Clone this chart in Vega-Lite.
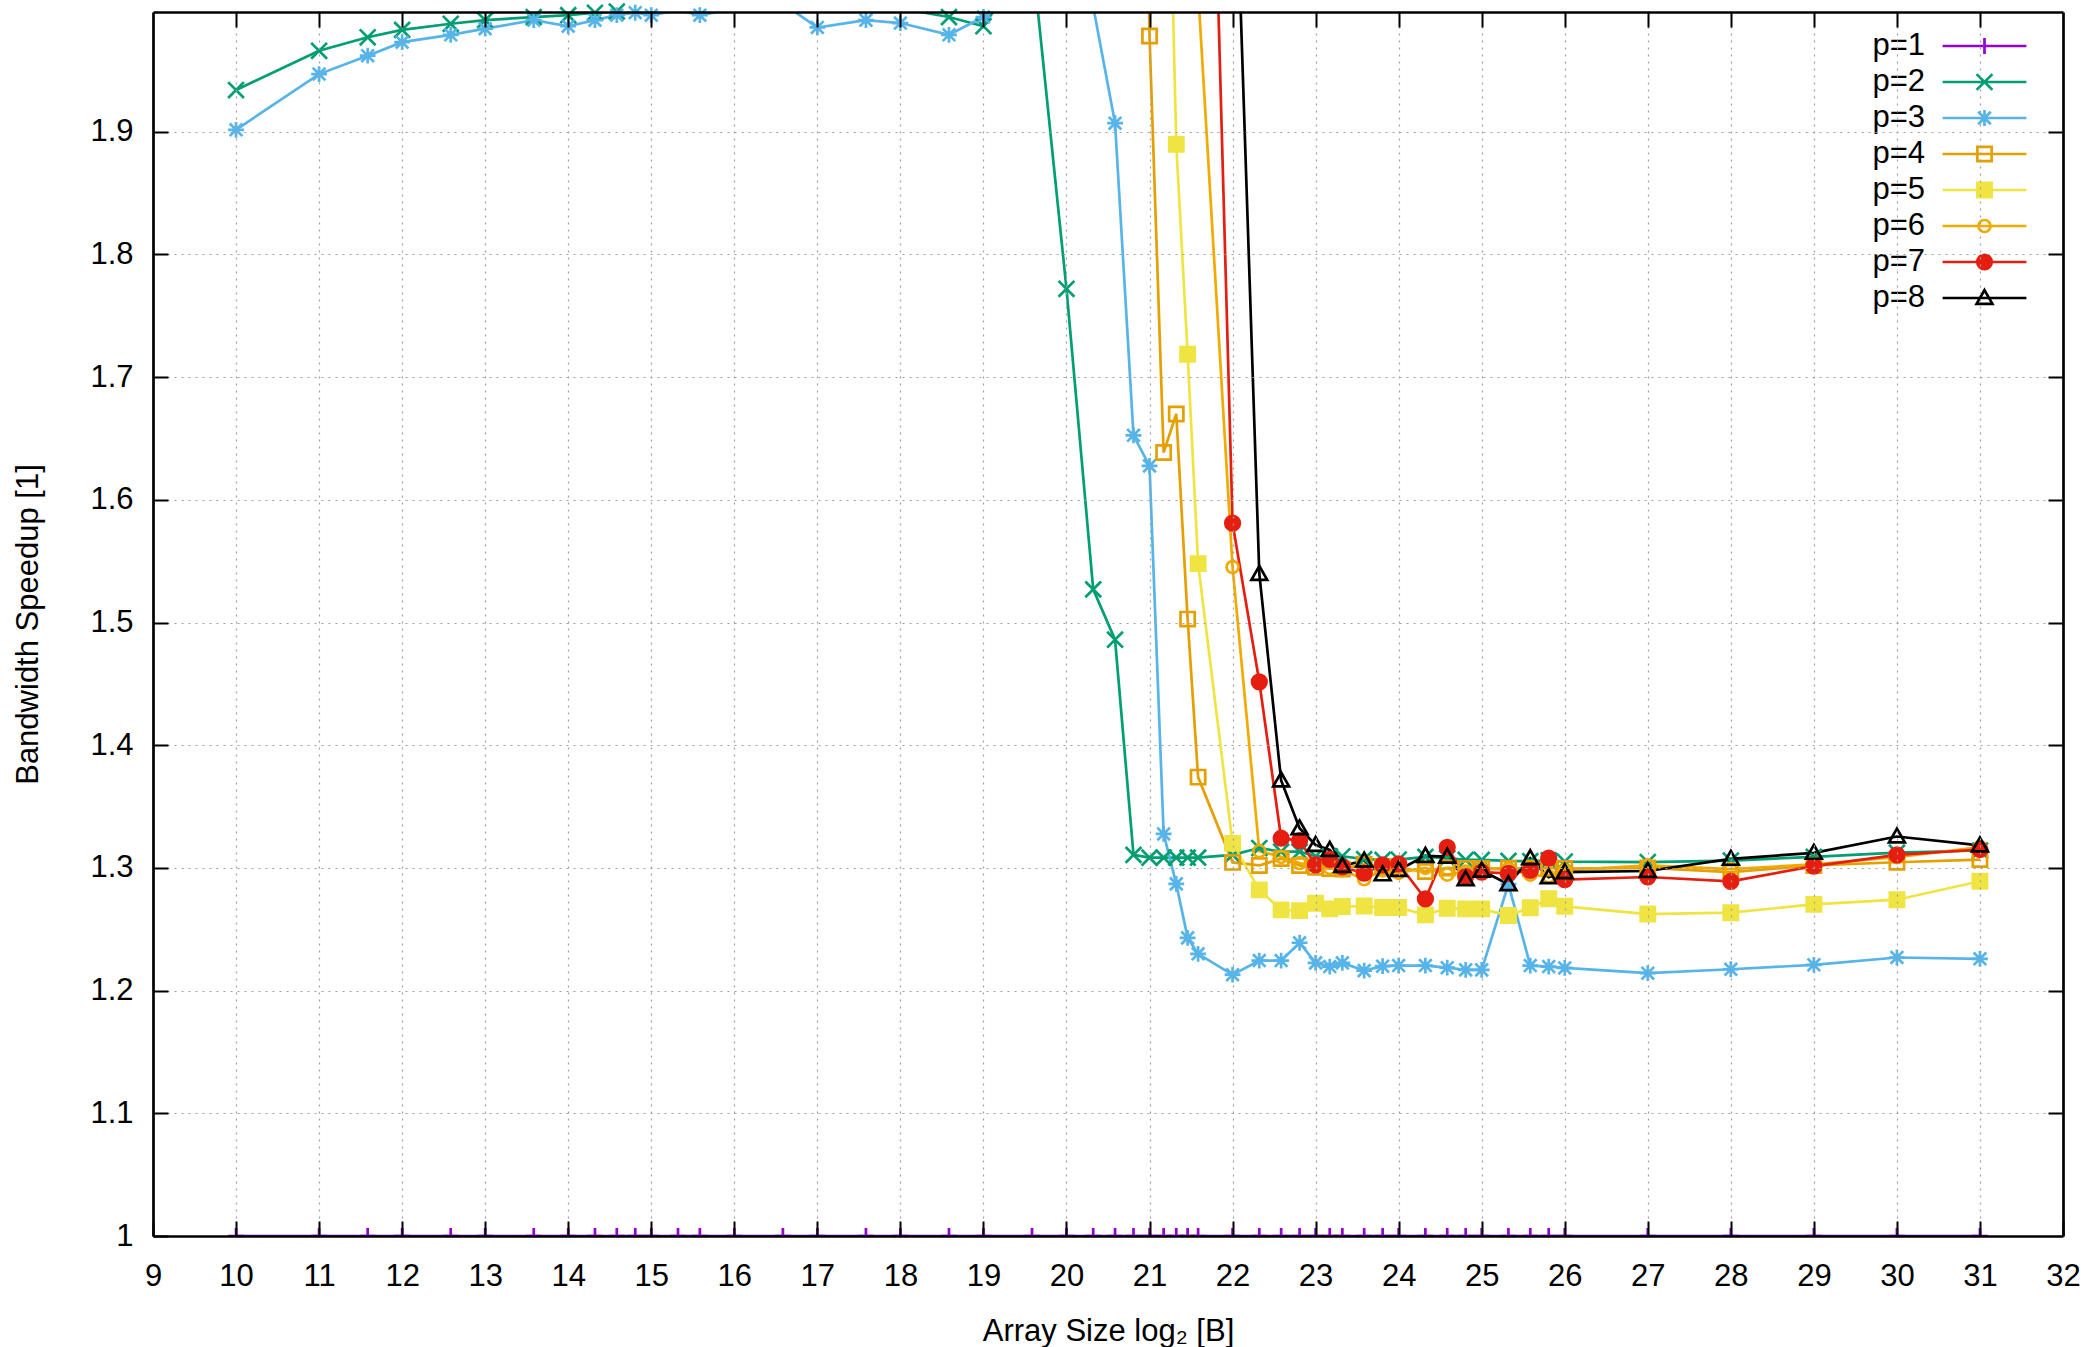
{
  "$schema": "https://vega.github.io/schema/vega-lite/v6.json",
  "width": 1910,
  "height": 1224,
  "autosize": {"type": "none"},
  "padding": {"left": 153, "top": 12, "right": 27, "bottom": 111},
  "background": "white",
  "config": {
    "view": {"stroke": null},
    "font": "Liberation Sans",
    "legend": {
      "title": null,
      "labelFont": "Liberation Sans",
      "labelFontSize": 31,
      "labelColor": "black",
      "labelAlign": "right",
      "labelOffset": -75,
      "rowPadding": 4.0,
      "padding": 0,
      "symbolSize": 250,
      "symbolStrokeWidth": 2.7,
      "symbolOpacity": 1
    }
  },
  "data": {
    "values": [
      {"x": 10, "p=1": 1, "p=2": 1.934, "p=3": 1.9016, "p=4": 2.88, "p=5": 3.3, "p=6": 3.62, "p=7": 3.85, "p=8": 4.05},
      {"x": 11, "p=1": 1, "p=2": 1.966, "p=3": 1.947, "p=4": 2.93, "p=5": 3.38, "p=6": 3.7, "p=7": 3.93, "p=8": 4.15},
      {"x": 11.585, "p=1": 1, "p=2": 1.977, "p=3": 1.962, "p=4": 2.95, "p=5": 3.4, "p=6": 3.73, "p=7": 3.96, "p=8": 4.18},
      {"x": 12, "p=1": 1, "p=2": 1.983, "p=3": 1.973, "p=4": 2.96, "p=5": 3.42, "p=6": 3.75, "p=7": 3.98, "p=8": 4.2},
      {"x": 12.585, "p=1": 1, "p=2": 1.988, "p=3": 1.979, "p=4": 2.97, "p=5": 3.43, "p=6": 3.76, "p=7": 3.99, "p=8": 4.22},
      {"x": 13, "p=1": 1, "p=2": 1.991, "p=3": 1.984, "p=4": 2.97, "p=5": 3.44, "p=6": 3.77, "p=7": 4.0, "p=8": 4.23},
      {"x": 13.585, "p=1": 1, "p=2": 1.9935, "p=3": 1.991, "p=4": 2.98, "p=5": 3.44, "p=6": 3.78, "p=7": 4.01, "p=8": 4.24},
      {"x": 14, "p=1": 1, "p=2": 1.995, "p=3": 1.986, "p=4": 2.98, "p=5": 3.45, "p=6": 3.78, "p=7": 4.01, "p=8": 4.25},
      {"x": 14.322, "p=1": 1, "p=2": 1.997, "p=3": 1.991, "p=4": 2.98, "p=5": 3.45, "p=6": 3.79, "p=7": 4.02, "p=8": 4.25},
      {"x": 14.585, "p=1": 1, "p=2": 1.998, "p=3": 1.995, "p=4": 2.99, "p=5": 3.45, "p=6": 3.79, "p=7": 4.02, "p=8": 4.26},
      {"x": 14.807, "p=1": 1, "p=2": 2.0, "p=3": 1.997, "p=4": 2.99, "p=5": 3.46, "p=6": 3.79, "p=7": 4.02, "p=8": 4.26},
      {"x": 15, "p=1": 1, "p=2": 2.002, "p=3": 1.995, "p=4": 2.99, "p=5": 3.46, "p=6": 3.8, "p=7": 4.03, "p=8": 4.26},
      {"x": 15.322, "p=1": 1, "p=2": 2.003, "p=3": 1.999, "p=4": 3.0, "p=5": 3.46, "p=6": 3.8, "p=7": 4.03, "p=8": 4.27},
      {"x": 15.585, "p=1": 1, "p=2": 2.003, "p=3": 1.995, "p=4": 3.0, "p=5": 3.46, "p=6": 3.8, "p=7": 4.03, "p=8": 4.27},
      {"x": 16, "p=1": 1, "p=2": 2.004, "p=3": 2.0, "p=4": 3.0, "p=5": 3.47, "p=6": 3.8, "p=7": 4.04, "p=8": 4.27},
      {"x": 16.585, "p=1": 1, "p=2": 2.004, "p=3": 2.0045, "p=4": 3.0, "p=5": 3.47, "p=6": 3.8, "p=7": 4.04, "p=8": 4.27},
      {"x": 17, "p=1": 1, "p=2": 2.004, "p=3": 1.985, "p=4": 3.0, "p=5": 3.47, "p=6": 3.8, "p=7": 4.04, "p=8": 4.28},
      {"x": 17.585, "p=1": 1, "p=2": 2.003, "p=3": 1.991, "p=4": 2.99, "p=5": 3.46, "p=6": 3.8, "p=7": 4.03, "p=8": 4.27},
      {"x": 18, "p=1": 1, "p=2": 2.0005, "p=3": 1.9886, "p=4": 2.99, "p=5": 3.46, "p=6": 3.79, "p=7": 4.03, "p=8": 4.27},
      {"x": 18.585, "p=1": 1, "p=2": 1.9935, "p=3": 1.979, "p=4": 2.98, "p=5": 3.45, "p=6": 3.79, "p=7": 4.02, "p=8": 4.26},
      {"x": 19, "p=1": 1, "p=2": 1.986, "p=3": 1.9935, "p=4": 2.97, "p=5": 3.45, "p=6": 3.78, "p=7": 4.02, "p=8": 4.26},
      {"x": 19.585, "p=1": 1, "p=2": 2.045, "p=3": 2.017, "p=4": 2.96, "p=5": 3.44, "p=6": 3.77, "p=7": 4.01, "p=8": 4.25},
      {"x": 20, "p=1": 1, "p=2": 1.772, "p=3": 2.01, "p=4": 2.93, "p=5": 3.42, "p=6": 3.75, "p=7": 4.0, "p=8": 4.24},
      {"x": 20.322, "p=1": 1, "p=2": 1.527, "p=3": 2.002, "p=4": 2.88, "p=5": 3.35, "p=6": 3.7, "p=7": 3.96, "p=8": 4.21},
      {"x": 20.585, "p=1": 1, "p=2": 1.486, "p=3": 1.907, "p=4": 2.82, "p=5": 3.2, "p=6": 3.62, "p=7": 3.9, "p=8": 4.15},
      {"x": 20.807, "p=1": 1, "p=2": 1.3106, "p=3": 1.6526, "p=4": 2.75, "p=5": 3.0, "p=6": 3.5, "p=7": 3.78, "p=8": 4.05},
      {"x": 21, "p=1": 1, "p=2": 1.3084, "p=3": 1.6277, "p=4": 1.978, "p=5": 2.75, "p=6": 3.3, "p=7": 3.6, "p=8": 3.9},
      {"x": 21.17, "p=1": 1, "p=2": 1.3084, "p=3": 1.3277, "p=4": 1.6386, "p=5": 2.32, "p=6": 3.0, "p=7": 3.45, "p=8": 3.8},
      {"x": 21.322, "p=1": 1, "p=2": 1.3084, "p=3": 1.287, "p=4": 1.67, "p=5": 1.8897, "p=6": 2.7, "p=7": 3.3, "p=8": 3.6},
      {"x": 21.459, "p=1": 1, "p=2": 1.3084, "p=3": 1.243, "p=4": 1.5028, "p=5": 1.7187, "p=6": 2.4, "p=7": 3.05, "p=8": 3.4},
      {"x": 21.585, "p=1": 1, "p=2": 1.3084, "p=3": 1.23, "p=4": 1.374, "p=5": 1.548, "p=6": 2.015, "p=7": 2.6, "p=8": 3.0},
      {"x": 22, "p=1": 1, "p=2": 1.3106, "p=3": 1.213, "p=4": 1.3045, "p=5": 1.32, "p=6": 1.5452, "p=7": 1.581, "p=8": 2.2},
      {"x": 22.322, "p=1": 1, "p=2": 1.3162, "p=3": 1.2245, "p=4": 1.302, "p=5": 1.2821, "p=6": 1.3137, "p=7": 1.4517, "p=8": 1.5396},
      {"x": 22.585, "p=1": 1, "p=2": 1.3133, "p=3": 1.2245, "p=4": 1.3076, "p=5": 1.2658, "p=6": 1.309, "p=7": 1.3242, "p=8": 1.3713},
      {"x": 22.807, "p=1": 1, "p=2": 1.3133, "p=3": 1.239, "p=4": 1.302, "p=5": 1.2652, "p=6": 1.304, "p=7": 1.3223, "p=8": 1.3323},
      {"x": 23, "p=1": 1, "p=2": 1.3095, "p=3": 1.2226, "p=4": 1.3005, "p=5": 1.2712, "p=6": 1.302, "p=7": 1.3024, "p=8": 1.3187},
      {"x": 23.17, "p=1": 1, "p=2": 1.3095, "p=3": 1.2196, "p=4": 1.2995, "p=5": 1.2666, "p=6": 1.3, "p=7": 1.307, "p=8": 1.3147},
      {"x": 23.322, "p=1": 1, "p=2": 1.3095, "p=3": 1.2226, "p=4": 1.299, "p=5": 1.2685, "p=6": 1.298, "p=7": 1.3008, "p=8": 1.3016},
      {"x": 23.585, "p=1": 1, "p=2": 1.3071, "p=3": 1.2163, "p=4": 1.303, "p=5": 1.269, "p=6": 1.2908, "p=7": 1.2957, "p=8": 1.306},
      {"x": 23.807, "p=1": 1, "p=2": 1.3065, "p=3": 1.2199, "p=4": 1.301, "p=5": 1.2677, "p=6": 1.298, "p=7": 1.3024, "p=8": 1.2948},
      {"x": 24, "p=1": 1, "p=2": 1.3068, "p=3": 1.2204, "p=4": 1.3, "p=5": 1.2677, "p=6": 1.296, "p=7": 1.3032, "p=8": 1.2984},
      {"x": 24.322, "p=1": 1, "p=2": 1.309, "p=3": 1.2204, "p=4": 1.297, "p=5": 1.2617, "p=6": 1.3, "p=7": 1.2747, "p=8": 1.3098},
      {"x": 24.585, "p=1": 1, "p=2": 1.308, "p=3": 1.2187, "p=4": 1.3, "p=5": 1.2671, "p=6": 1.2945, "p=7": 1.3168, "p=8": 1.3092},
      {"x": 24.807, "p=1": 1, "p=2": 1.3065, "p=3": 1.2169, "p=4": 1.2995, "p=5": 1.2666, "p=6": 1.297, "p=7": 1.293, "p=8": 1.2908},
      {"x": 25, "p=1": 1, "p=2": 1.3065, "p=3": 1.2169, "p=4": 1.2995, "p=5": 1.2666, "p=6": 1.299, "p=7": 1.2965, "p=8": 1.2978},
      {"x": 25.322, "p=1": 1, "p=2": 1.3057, "p=3": 1.2868, "p=4": 1.2997, "p=5": 1.2612, "p=6": 1.299, "p=7": 1.2955, "p=8": 1.2867},
      {"x": 25.585, "p=1": 1, "p=2": 1.3055, "p=3": 1.2204, "p=4": 1.2995, "p=5": 1.2675, "p=6": 1.2945, "p=7": 1.298, "p=8": 1.3079},
      {"x": 25.807, "p=1": 1, "p=2": 1.3062, "p=3": 1.2196, "p=4": 1.3, "p=5": 1.2748, "p=6": 1.293, "p=7": 1.308, "p=8": 1.2924},
      {"x": 26, "p=1": 1, "p=2": 1.3052, "p=3": 1.2185, "p=4": 1.2995, "p=5": 1.2687, "p=6": 1.298, "p=7": 1.2905, "p=8": 1.2965},
      {"x": 27, "p=1": 1, "p=2": 1.3048, "p=3": 1.2142, "p=4": 1.3, "p=5": 1.2624, "p=6": 1.302, "p=7": 1.2926, "p=8": 1.2975},
      {"x": 28, "p=1": 1, "p=2": 1.306, "p=3": 1.2174, "p=4": 1.2965, "p=5": 1.2635, "p=6": 1.299, "p=7": 1.2891, "p=8": 1.3074},
      {"x": 29, "p=1": 1, "p=2": 1.309, "p=3": 1.221, "p=4": 1.302, "p=5": 1.2703, "p=6": 1.303, "p=7": 1.3014, "p=8": 1.3123},
      {"x": 30, "p=1": 1, "p=2": 1.3125, "p=3": 1.227, "p=4": 1.3046, "p=5": 1.2741, "p=6": 1.3087, "p=7": 1.3106, "p=8": 1.3256},
      {"x": 31, "p=1": 1, "p=2": 1.3142, "p=3": 1.2259, "p=4": 1.3068, "p=5": 1.2891, "p=6": 1.317, "p=7": 1.315, "p=8": 1.3183}
    ]
  },
  "transform": [
    {"fold": ["p=1", "p=2", "p=3", "p=4", "p=5", "p=6", "p=7", "p=8"], "as": ["p", "s"]}
  ],
  "layer": [
    {
      "mark": {"type": "line", "clip": true, "strokeWidth": 2.7, "opacity": 1},
      "encoding": {
        "x": {
          "field": "x", "type": "quantitative",
          "scale": {"domain": [9, 32], "nice": false, "zero": false},
          "axis": {
            "orient": "bottom",
            "values": [9, 10, 11, 12, 13, 14, 15, 16, 17, 18, 19, 20, 21, 22, 23, 24, 25, 26, 27, 28, 29, 30, 31, 32],
            "format": "d",
            "labelFontSize": 31, "labelFont": "Liberation Sans", "labelColor": "black",
            "labelPadding": 40, "labelFlush": false, "labelOverlap": false,
            "tickSize": -15, "tickWidth": 2, "tickColor": "black",
            "domain": true, "domainColor": "black", "domainWidth": 2.7,
            "grid": true, "gridColor": "#a0a0a0", "gridDash": [2, 5], "gridWidth": 1.2,
            "title": "Array Size log₂ [B]",
            "titleFontSize": 31, "titleFont": "Liberation Sans", "titleFontWeight": "normal", "titleColor": "black",
            "titlePadding": 25,
            "zindex": 1
          }
        },
        "y": {
          "field": "s", "type": "quantitative",
          "scale": {"domain": [1, 1.9976], "nice": false, "zero": false},
          "axis": {
            "orient": "left",
            "values": [1, 1.1, 1.2, 1.3, 1.4, 1.5, 1.6, 1.7, 1.8, 1.9],
            "format": ".1~f",
            "labelFontSize": 31, "labelFont": "Liberation Sans", "labelColor": "black",
            "labelPadding": 35, "labelFlush": false, "labelOverlap": false,
            "tickSize": -15, "tickWidth": 2, "tickColor": "black",
            "domain": true, "domainColor": "black", "domainWidth": 2.7,
            "grid": true, "gridColor": "#a0a0a0", "gridDash": [2, 5], "gridWidth": 1.2,
            "title": "Bandwidth Speedup [1]",
            "titleFontSize": 31, "titleFont": "Liberation Sans", "titleFontWeight": "normal", "titleColor": "black",
            "titlePadding": 45,
            "zindex": 1
          }
        },
        "stroke": {
          "field": "p", "type": "nominal",
          "scale": {
            "domain": ["p=1", "p=2", "p=3", "p=4", "p=5", "p=6", "p=7", "p=8"],
            "range": ["#9400D3", "#009E73", "#56B4E9", "#E69F00", "#F0E442", "#F0AA00", "#E51E10", "#000000"]
          },
          "legend": null
        },
        "order": {"field": "x", "type": "quantitative"}
      }
    },
    {
      "transform": [{"filter": "datum.p == 'p=1'"}],
      "mark": {"type": "point", "clip": true, "strokeWidth": 2.7, "opacity": 1, "size": 250},
      "encoding": {
        "x": {"field": "x", "type": "quantitative", "axis": null},
        "y": {"field": "s", "type": "quantitative", "axis": null},
        "stroke": {"field": "p", "type": "nominal",
          "scale": {
            "domain": ["p=1", "p=2", "p=3", "p=4", "p=5", "p=6", "p=7", "p=8"],
            "range": ["#9400D3", "#009E73", "#56B4E9", "#E69F00", "#F0E442", "#F0AA00", "#E51E10", "#000000"]
          },
          "legend": null},
        "fill": {"field": "p", "type": "nominal",
          "scale": {
            "domain": ["p=1", "p=2", "p=3", "p=4", "p=5", "p=6", "p=7", "p=8"],
            "range": ["transparent", "transparent", "transparent", "transparent", "#F0E442", "transparent", "#E51E10", "transparent"]
          },
          "legend": null},
        "shape": {"field": "p", "type": "nominal",
          "scale": {
            "domain": ["p=1", "p=2", "p=3", "p=4", "p=5", "p=6", "p=7", "p=8"],
            "range": [
              "M-1,0H1M0,-1V1",
              "M-1,-1L1,1M-1,1L1,-1",
              "M-1,0H1M0,-1V1M-0.8,-0.8L0.8,0.8M-0.8,0.8L0.8,-0.8",
              "M-0.9,-0.9H0.9V0.9H-0.9Z",
              "M-0.9,-0.9H0.9V0.9H-0.9Z",
              "M0.76,0A0.76,0.76,0,1,1,-0.76,0A0.76,0.76,0,1,1,0.76,0Z",
              "M0.92,0A0.92,0.92,0,1,1,-0.92,0A0.92,0.92,0,1,1,0.92,0Z",
              "M0,-1L1,0.75H-1Z"
            ]
          },
          "legend": null}
      }
    },
    {
      "transform": [{"filter": "datum.p != 'p=1' && datum.s < 1.9985"}],
      "mark": {"type": "point", "clip": false, "strokeWidth": 2.7, "opacity": 1, "size": 250},
      "encoding": {
        "x": {"field": "x", "type": "quantitative",
          "axis": {
            "orient": "top", "values": [10, 11, 12, 13, 14, 15, 16, 17, 18, 19, 20, 21, 22, 23, 24, 25, 26, 27, 28, 29, 30, 31],
            "labels": false, "title": null, "grid": false,
            "tickSize": -15, "tickWidth": 2, "tickColor": "black",
            "domain": true, "domainColor": "black", "domainWidth": 2.7, "zindex": 1
          }},
        "y": {"field": "s", "type": "quantitative",
          "axis": {
            "orient": "right", "values": [1.1, 1.2, 1.3, 1.4, 1.5, 1.6, 1.7, 1.8, 1.9],
            "labels": false, "title": null, "grid": false,
            "tickSize": -15, "tickWidth": 2, "tickColor": "black",
            "domain": true, "domainColor": "black", "domainWidth": 2.7, "zindex": 1
          }},
        "stroke": {"field": "p", "type": "nominal",
          "scale": {
            "domain": ["p=1", "p=2", "p=3", "p=4", "p=5", "p=6", "p=7", "p=8"],
            "range": ["#9400D3", "#009E73", "#56B4E9", "#E69F00", "#F0E442", "#F0AA00", "#E51E10", "#000000"]
          },
          "legend": null},
        "fill": {"field": "p", "type": "nominal",
          "scale": {
            "domain": ["p=1", "p=2", "p=3", "p=4", "p=5", "p=6", "p=7", "p=8"],
            "range": ["transparent", "transparent", "transparent", "transparent", "#F0E442", "transparent", "#E51E10", "transparent"]
          },
          "legend": null},
        "shape": {"field": "p", "type": "nominal",
          "scale": {
            "domain": ["p=1", "p=2", "p=3", "p=4", "p=5", "p=6", "p=7", "p=8"],
            "range": [
              "M-1,0H1M0,-1V1",
              "M-1,-1L1,1M-1,1L1,-1",
              "M-1,0H1M0,-1V1M-0.8,-0.8L0.8,0.8M-0.8,0.8L0.8,-0.8",
              "M-0.9,-0.9H0.9V0.9H-0.9Z",
              "M-0.9,-0.9H0.9V0.9H-0.9Z",
              "M0.76,0A0.76,0.76,0,1,1,-0.76,0A0.76,0.76,0,1,1,0.76,0Z",
              "M0.92,0A0.92,0.92,0,1,1,-0.92,0A0.92,0.92,0,1,1,0.92,0Z",
              "M0,-1L1,0.75H-1Z"
            ]
          },
          "legend": null}
      }
    },
    {
      "transform": [{"filter": "false"}],
      "mark": {"type": "point", "clip": true, "strokeWidth": 2.7, "opacity": 1, "size": 250},
      "encoding": {
        "x": {"field": "x", "type": "quantitative", "axis": null},
        "y": {"field": "s", "type": "quantitative", "axis": null},
        "stroke": {"field": "p", "type": "nominal",
          "scale": {
            "domain": ["p=1", "p=2", "p=3", "p=4", "p=5", "p=6", "p=7", "p=8"],
            "range": ["#9400D3", "#009E73", "#56B4E9", "#E69F00", "#F0E442", "#F0AA00", "#E51E10", "#000000"]
          },
          "legend": {"orient": "none", "legendX": 1816, "legendY": 18.5}},
        "fill": {"field": "p", "type": "nominal",
          "scale": {
            "domain": ["p=1", "p=2", "p=3", "p=4", "p=5", "p=6", "p=7", "p=8"],
            "range": ["transparent", "transparent", "transparent", "transparent", "#F0E442", "transparent", "#E51E10", "transparent"]
          },
          "legend": {"orient": "none", "legendX": 1816, "legendY": 18.5}},
        "shape": {"field": "p", "type": "nominal",
          "scale": {
            "domain": ["p=1", "p=2", "p=3", "p=4", "p=5", "p=6", "p=7", "p=8"],
            "range": [
              "M-5.3,0H5.3M-1,0H1M0,-1V1",
              "M-5.3,0H5.3M-1,-1L1,1M-1,1L1,-1",
              "M-5.3,0H5.3M-1,0H1M0,-1V1M-0.8,-0.8L0.8,0.8M-0.8,0.8L0.8,-0.8",
              "M-5.3,0H5.3M-0.9,-0.9H0.9V0.9H-0.9Z",
              "M-5.3,0H5.3M-0.9,-0.9H0.9V0.9H-0.9Z",
              "M-5.3,0H5.3M0.76,0A0.76,0.76,0,1,1,-0.76,0A0.76,0.76,0,1,1,0.76,0Z",
              "M-5.3,0H5.3M0.92,0A0.92,0.92,0,1,1,-0.92,0A0.92,0.92,0,1,1,0.92,0Z",
              "M-5.3,0H5.3M0,-1L1,0.75H-1Z"
            ]
          },
          "legend": {"orient": "none", "legendX": 1816, "legendY": 18.5}}
      }
    }
  ],
  "resolve": {
    "scale": {"stroke": "independent", "fill": "independent", "shape": "independent"},
    "axis": {"x": "independent", "y": "independent"}
  }
}
